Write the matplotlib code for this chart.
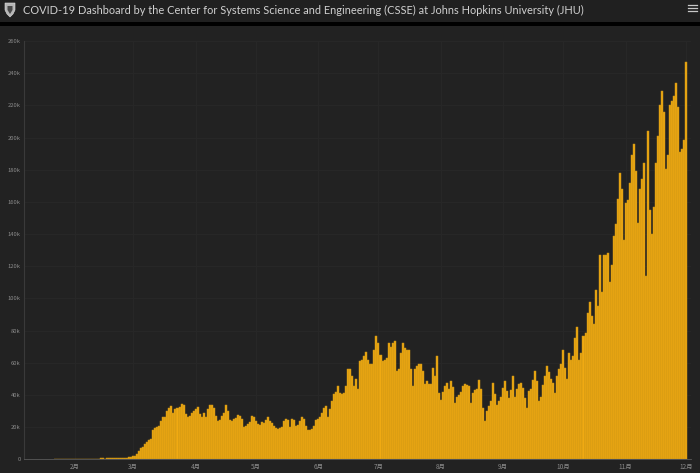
import matplotlib
matplotlib.use("Agg")
import matplotlib.pyplot as plt
from matplotlib.patches import Polygon, Rectangle
import numpy as np

plt.rcParams['font.family'] = ['Noto Sans CJK SC', 'DejaVu Sans']

jan = [0.1,0.1,0.2,0.2,0.3,0.3,0.3,0.3,0.3,0.3]
feb = [0.3,0.3,0.3,0.3,0.3,0.3,0.3,0.3,0.3,0.3,0.3,0.3,0.4,0.5,0.5,0.4,0.5,0.5,0.5,0.6,0.8,0.8,0.9,1.0,1.0,1.1,1.1,1.3,1.5]
mar = [1.8,2.0,3.5,5,6.8,7.5,9.5,11,12,12.8,18.5,19.5,20,21,24,26.5,26,30,32,33,29,31,32,32.5,34.5,33.5,28,26,27,29,30]
apr = [31,32.5,28,26,28.5,26.5,31,34,33.5,32,27,24,24.5,27,29,34,30,24.5,24,25,25.5,27.5,27,25,20,20.5,22,23,27,26]
may = [23.5,22,21.5,23,22.5,24.5,26,24,22.5,21,19.5,19,19.5,20,24,25,24.5,20,25,24.5,21,21.5,24,26,25,21,18.5,18,19,21,24.5]
jun = [25,26,29,32,33,26,31,36,40.5,42,45.5,41.5,40.5,41,45.5,56,56,52,45.5,50,44,61,62,64,67,62,59,59,68,76.5]
jul = [72,65,61,62,63,72,70,72,73.5,55,56,66,72,69,68,68,56,45.5,56,58,59,59,55,46.5,48.5,47,46.5,57,52,64,41.5]
aug = [37,42,45.5,47.5,43.5,48.5,45,35,39,40,42,45.5,46.5,46,45.5,35,41.5,43,44,49.5,43.5,32,24,30,33,36,47.5,40.5,34,36,39]
sep = [44.5,48.5,42.5,38,43,52,39,44,46.5,47.5,44.5,38,32,42.5,43.5,49,55,48.5,36,39,46,52,58,54,50,47.5,41.5,52,56,59]
oct_ = [68,57,50,66,62,64,75.5,82,62,66,76.5,78.5,91,98,89,84,105,95,127,104,127,127,128,110,121,139,146,162,178,168,136]
nov = [159,161,172,189,196,179,147,168,174,184,114,204,155,140,157,184,201,220,229,216,180.5,189,220,223,226,234,219,191,193,198.5]
dec = [247]
month_labels = ['2月','3月','4月','5月','6月','7月','8月','9月','10月','11月','12月']
month_lengths = [10,29,31,30,31,30,31,31,30,31,30]  # days from Jan 22 to each month start
y_ticks = list(range(0,261,20))
title = 'COVID-19 Dashboard by the Center for Systems Science and Engineering (CSSE) at Johns Hopkins University (JHU)'

vals = np.array(jan+feb+mar+apr+may+jun+jul+aug+sep+oct_+nov+dec, dtype=float)
days = np.arange(len(vals))
tick_days = np.cumsum(month_lengths)

W, H = 700, 473
fig = plt.figure(figsize=(W/100, H/100), dpi=100, facecolor='#222222')

# chrome layer in pixel coordinates
bg = fig.add_axes([0,0,1,1])
bg.set_xlim(0,W); bg.set_ylim(H,0); bg.axis('off')
bg.add_patch(Rectangle((0,0),W,22.5,color='#202020',lw=0))
bg.add_patch(Rectangle((0,22.5),W,3.5,color='#000000',lw=0))
bg.text(23,10.5,title,color='#d0d0d0',fontsize=7.9,family='Lato',va='center',ha='left')
bg.add_patch(Polygon([(5,3),(15,3),(15,10),(13,14),(10,17),(7,14),(5,10)],closed=True,fc='#b5b5b5',ec='#e0e0e0',lw=0.4))
bg.add_patch(Polygon([(7.5,6),(12.5,6),(12.5,10),(10,14),(7.5,10)],closed=True,fc='#4a4a4a',lw=0))
for yy in (5.5,8.5,11.5):
    bg.plot([688,697],[yy,yy],color='#c8c8c8',lw=0.9)

# chart
left, right, top, bottom = 24, 691, 41, 459.3
ax = fig.add_axes([left/W, 1-bottom/H, (right-left)/W, (bottom-top)/H], facecolor='#222222')
px_per_day = (686-75)/304
x_feb1 = tick_days[0]
ax.set_xlim(x_feb1-(75-left)/px_per_day, x_feb1+(right-75)/px_per_day)
ax.set_ylim(0,260)
ax.bar(days, vals, width=1.0, color='#f0aa12', edgecolor='#c48f16', linewidth=0.35, zorder=3)
ax.set_yticks(y_ticks)
ax.set_yticklabels([f'{v}k' if v else '0' for v in y_ticks], fontsize=4.2, color='#8a8a8a')
ax.set_xticks(tick_days)
ax.set_xticklabels(month_labels, fontsize=4.6, color='#8a8a8a')
ax.tick_params(axis='both', length=0, pad=2.5)
ax.grid(True, color='#282828', lw=0.6, zorder=0)
for s in ('top','right'):
    ax.spines[s].set_visible(False)
ax.spines['left'].set_color('#3a3a3a'); ax.spines['left'].set_linewidth(0.8)
ax.spines['bottom'].set_color('#5a5a5a'); ax.spines['bottom'].set_linewidth(0.6)

fig.savefig('out.png', dpi=100, facecolor=fig.get_facecolor())
